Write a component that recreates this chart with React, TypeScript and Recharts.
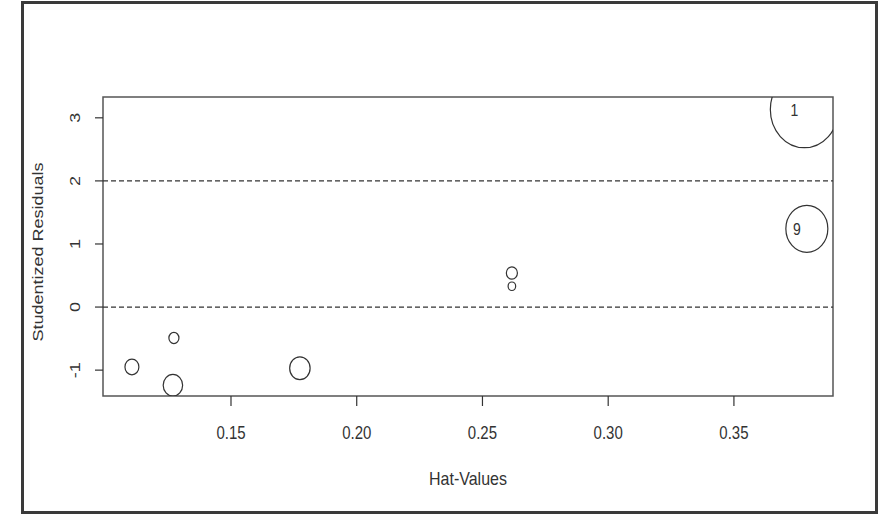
import React from 'react';
import {
  ScatterChart,
  Scatter,
  XAxis,
  YAxis,
  ReferenceLine,
  ReferenceArea,
  Label,
} from 'recharts';

// influence plot: hat values vs studentized residuals, bubble area ~ Cook's D
const hatValues = [0.1106, 0.1273, 0.1269, 0.1774, 0.2617, 0.2617, 0.379, 0.378];
const studResid = [-0.95, -0.49, -1.24, -0.97, 0.54, 0.33, 1.24, 3.13];
const cookD = [0.054, 0.028, 0.105, 0.116, 0.034, 0.016, 0.49, 1.284];
const obsLabels = ['', '', '', '', '', '', '9', '1'];

const xTicks = [0.15, 0.2, 0.25, 0.3, 0.35];
const yTicks = [-1, 0, 1, 2, 3];
const cutoffs = [0, 2];

const points = hatValues.map((h, i) => ({
  hat: h,
  resid: studResid[i],
  cook: cookD[i],
  label: obsLabels[i],
}));

const xDomain: [number, number] = [0.0991, 0.3894];
const yDomain: [number, number] = [-1.41, 3.33];

const FONT = '"Liberation Sans", Arial, sans-serif';
const INK = '#333';
const STRETCH = 1.2; // the source image is stretched vertically

// text stretched vertically, optionally rotated
const StretchText = ({ x, y, size, rotate, anchor, children }: any) => (
  <text
    transform={`translate(${x},${y}) scale(1,${STRETCH})${rotate ? ' rotate(-90)' : ''}`}
    textAnchor={anchor || 'middle'}
    fontSize={size}
    fontFamily={FONT}
    fill={INK}
  >
    {children}
  </text>
);

const Bubble = (props: any) => {
  const { cx, cy, payload } = props;
  const rx = 30 * Math.sqrt(payload.cook);
  const ry = rx * 1.12;
  return (
    <g>
      <ellipse cx={cx} cy={cy} rx={rx} ry={ry} fill="none" stroke={INK} strokeWidth={1.2} />
      {payload.label ? (
        <StretchText x={cx - 10} y={cy + 6} size={14}>
          {payload.label}
        </StretchText>
      ) : null}
    </g>
  );
};

const XTick = (props: any) => (
  <StretchText x={props.x} y={439} size={15}>
    {Number(props.payload.value).toFixed(2)}
  </StretchText>
);

const YTick = (props: any) => (
  <StretchText x={80} y={props.y} size={15} rotate>
    {props.payload.value}
  </StretchText>
);

export default function App() {
  return (
    <div style={{ position: 'absolute', left: 0, top: 0, width: 882, height: 515, background: '#fff' }}>
      <div
        style={{
          position: 'absolute',
          left: 21,
          top: 1,
          width: 857,
          height: 513,
          border: '3px solid #3a3a3a',
          boxSizing: 'border-box',
        }}
      />
      <div style={{ position: 'absolute', left: 0, top: 0 }}>
        <ScatterChart width={882} height={515} margin={{ top: 97, right: 49, left: 0, bottom: 0 }}>
          <XAxis
            type="number"
            dataKey="hat"
            domain={xDomain}
            ticks={xTicks}
            allowDataOverflow
            axisLine={false}
            tickSize={10}
            tickLine={{ stroke: INK, strokeWidth: 1.2 }}
            tick={<XTick />}
            height={119}
          >
            <Label
              content={() => (
                <StretchText x={468} y={485} size={16}>
                  Hat-Values
                </StretchText>
              )}
            />
          </XAxis>
          <YAxis
            type="number"
            dataKey="resid"
            domain={yDomain}
            ticks={yTicks}
            allowDataOverflow
            axisLine={false}
            tickSize={8}
            tickLine={{ stroke: INK, strokeWidth: 1.2 }}
            tick={<YTick />}
            width={103}
          >
            <Label
              content={() => (
                <StretchText x={43} y={252} size={15} rotate>
                  Studentized Residuals
                </StretchText>
              )}
            />
          </YAxis>
          {cutoffs.map((c) => (
            <ReferenceLine key={c} y={c} stroke={INK} strokeWidth={1.2} strokeDasharray="5 3" />
          ))}
          <ReferenceArea
            x1={xDomain[0]}
            x2={xDomain[1]}
            y1={yDomain[0]}
            y2={yDomain[1]}
            fill="none"
            fillOpacity={0}
            stroke="#555"
            strokeWidth={1.5}
          />
          <Scatter data={points} shape={<Bubble />} isAnimationActive={false} />
        </ScatterChart>
      </div>
    </div>
  );
}
